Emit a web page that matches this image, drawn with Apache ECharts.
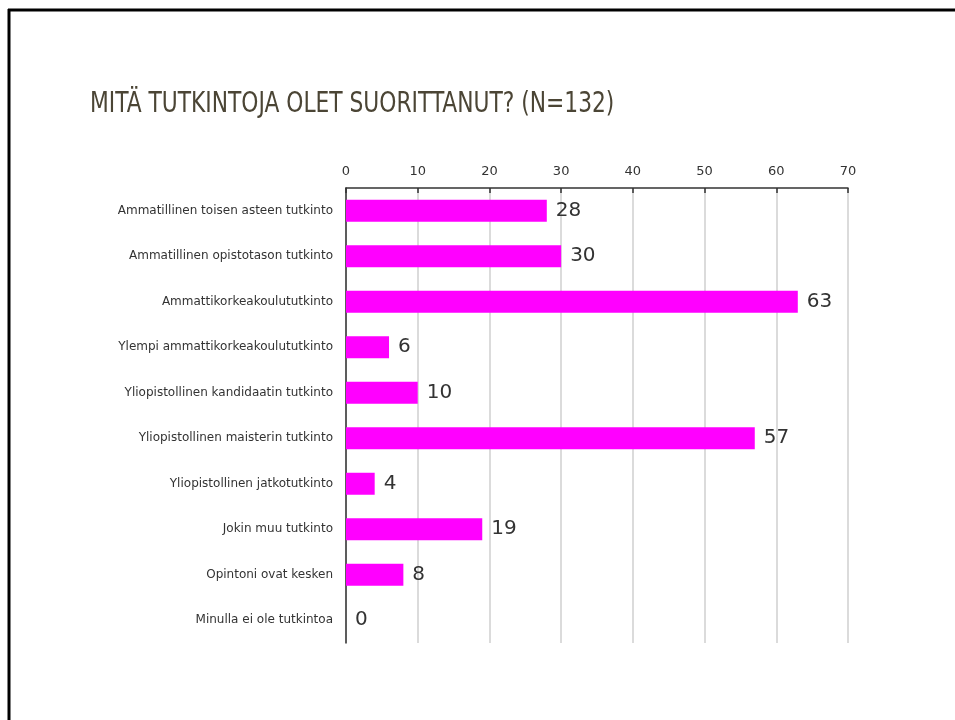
<!DOCTYPE html>
<html>
<head>
<meta charset="utf-8">
<script src="https://cdn.jsdelivr.net/npm/echarts@6/dist/echarts.min.js"></script>
<style>
  html, body { margin: 0; padding: 0; background: #fff; }
  #main { width: 955px; height: 720px; }
</style>
</head>
<body>
<div id="main"></div>
<script>
var categories = [
    'Ammatillinen toisen asteen tutkinto',
    'Ammatillinen opistotason tutkinto',
    'Ammattikorkeakoulututkinto',
    'Ylempi ammattikorkeakoulututkinto',
    'Yliopistollinen kandidaatin tutkinto',
    'Yliopistollinen maisterin tutkinto',
    'Yliopistollinen jatkotutkinto',
    'Jokin muu tutkinto',
    'Opintoni ovat kesken',
    'Minulla ei ole tutkintoa'
];
var counts = [28, 30, 63, 6, 10, 57, 4, 19, 8, 0];
var axisMax = 70;
var axisStep = 10;
var titleText = 'MITÄ TUTKINTOJA OLET SUORITTANUT? (N=132)';

var myChart = echarts.init(document.getElementById('main'));

var option = {
    animation: false,
    graphic: [
        { type: 'line', shape: { x1: 9, y1: 9, x2: 9, y2: 720 }, style: { stroke: '#000', lineWidth: 3 } },
        { type: 'line', shape: { x1: 8, y1: 10, x2: 955, y2: 10 }, style: { stroke: '#000', lineWidth: 3 } },
        // slide title, squeezed horizontally to look like the condensed original face
        {
            type: 'text',
            x: 90,
            y: 104,
            scaleX: 0.835,
            style: {
                text: titleText,
                font: '29px "DejaVu Sans Condensed", sans-serif',
                fill: '#4b4535',
                verticalAlign: 'middle'
            }
        }
    ],
    grid: {
        left: 346,
        right: 107,
        top: 188,
        bottom: 77
    },
    xAxis: {
        type: 'value',
        position: 'top',
        min: 0,
        max: axisMax,
        interval: axisStep,
        axisLine: { show: true, lineStyle: { color: '#333', width: 1.5 } },
        axisTick: { show: true, inside: true, length: 5, lineStyle: { color: '#333', width: 1.5 } },
        axisLabel: { color: '#333', fontSize: 13, fontFamily: 'DejaVu Sans', margin: 10 },
        splitLine: { show: true, lineStyle: { color: '#cfcfcf', width: 1.5 } }
    },
    yAxis: {
        type: 'category',
        data: categories,
        inverse: true,
        axisLine: { show: true, lineStyle: { color: '#333', width: 1.5 } },
        axisTick: { show: false },
        axisLabel: { color: '#333', fontSize: 12, fontFamily: 'DejaVu Sans', margin: 13 }
    },
    series: [{
        type: 'bar',
        data: counts,
        barWidth: 22,
        itemStyle: { color: '#ff00ff' },
        label: {
            show: true,
            position: 'right',
            distance: 9,
            color: '#333',
            fontSize: 20,
            fontFamily: 'DejaVu Sans'
        }
    }]
};

myChart.setOption(option);
</script>
</body>
</html>
